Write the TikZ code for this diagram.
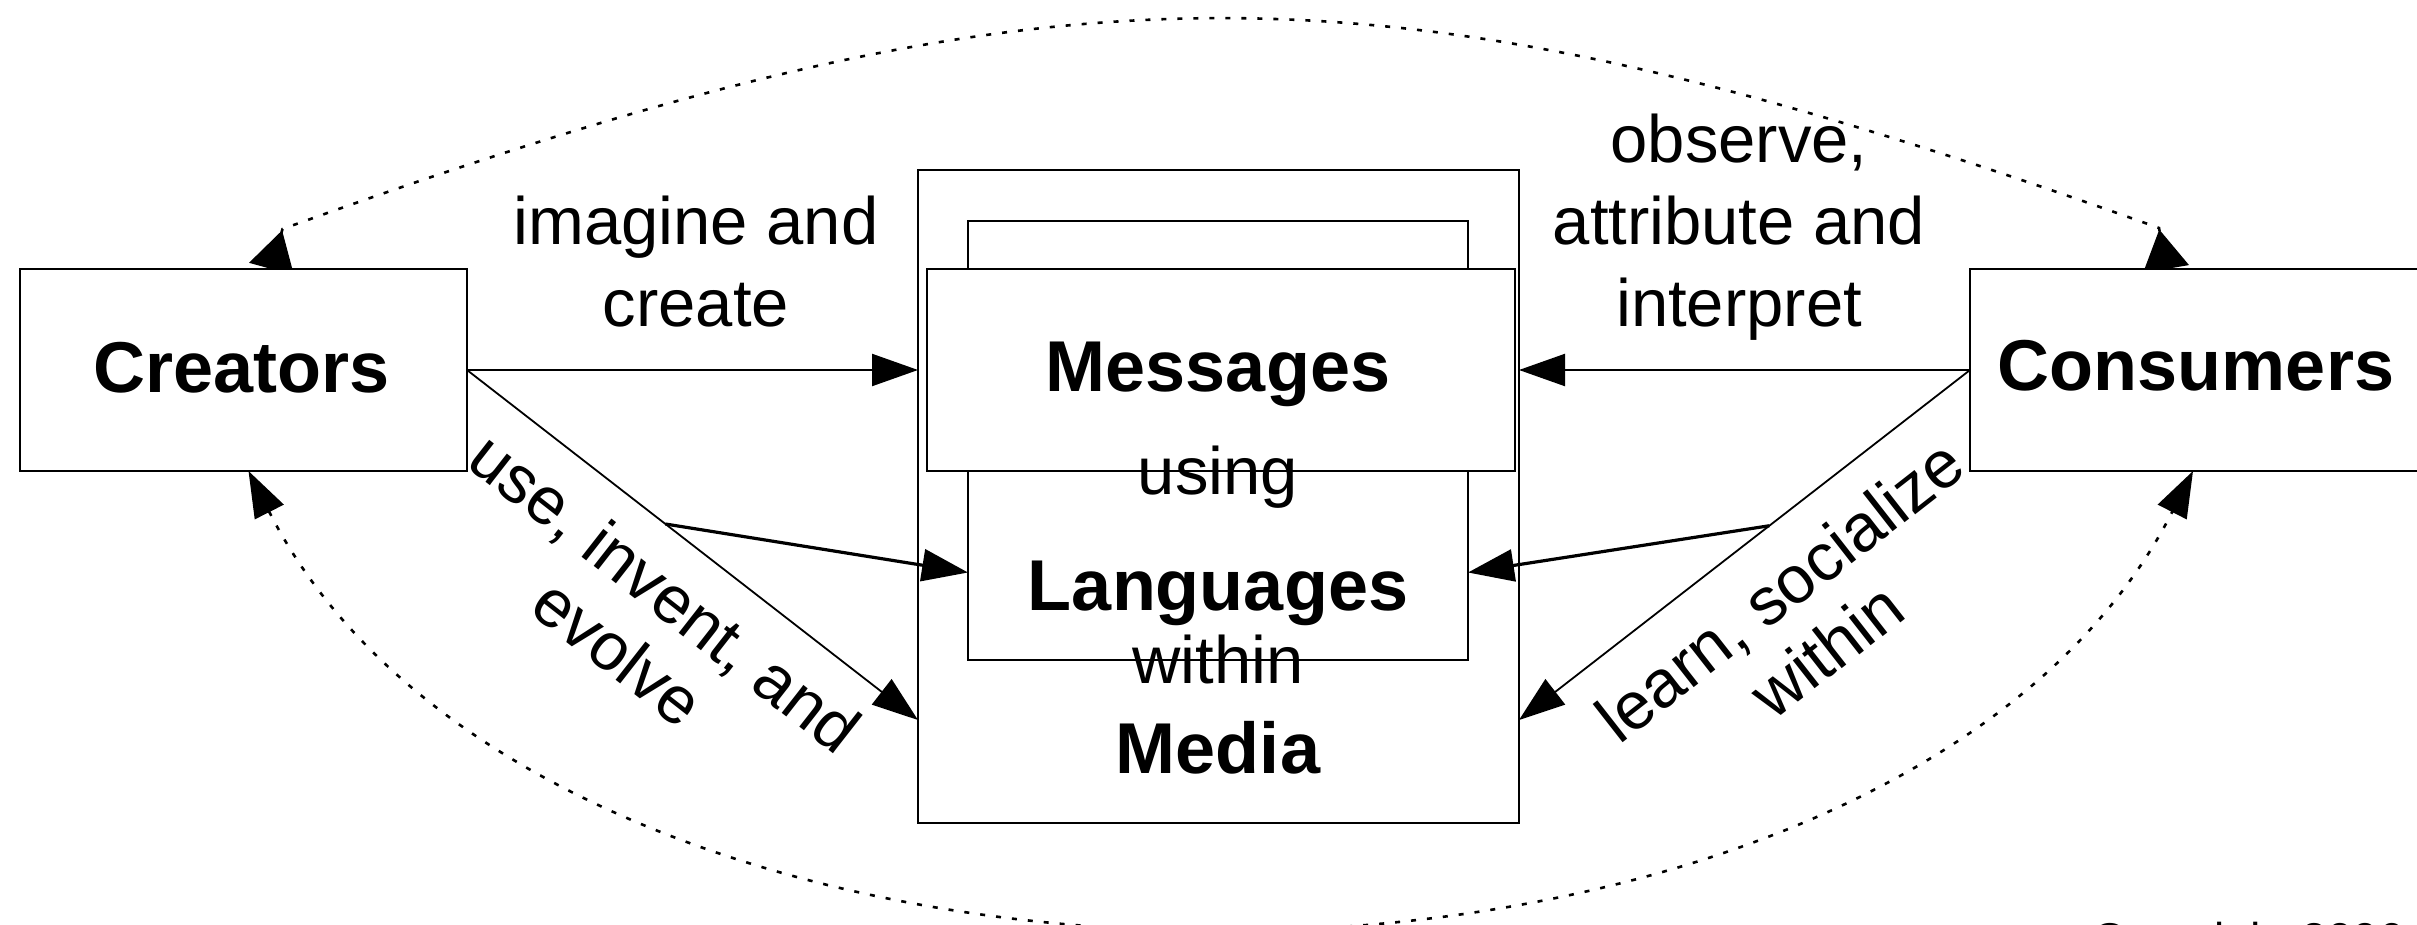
\documentclass[tikz,border=0pt]{standalone}
\usepackage{fontspec}
\setmainfont{Liberation Sans}
\usetikzlibrary{arrows.meta,calc}
\pgfdeclarelayer{background}
\pgfsetlayers{background,main}

\begin{document}
\begin{tikzpicture}[x=1pt,y=-1pt,
  box/.style={draw=black, line width=2.8pt, fill=white, inner sep=0pt, outer sep=0pt},
  big/.style={font=\fontsize{72}{86}\selectfont\bfseries, inner sep=0pt},
  lbl/.style={font=\fontsize{67}{82}\selectfont, inner sep=0pt, align=center},
  rlbl/.style={font=\fontsize{67}{76}\selectfont, inner sep=0pt, align=center},
  conn/.style={line width=2.2pt, -{Triangle[length=46pt,width=32pt]}},
  dotline/.style={line width=2.6pt, dash pattern=on 5pt off 11pt}]
\useasboundingbox (0,0) rectangle (2417,925);
\clip (0,0) rectangle (2417,925);

% boxes
\node[box, minimum width=447pt, minimum height=202pt] (cr) at (243.5,370) {};
\node[box, minimum width=601pt, minimum height=653pt] (media) at (1218.5,496.5) {};
\node[box, minimum width=500pt, minimum height=439pt] (lang) at (1218,440.5) {};
\node[box, minimum width=588pt, minimum height=202pt] (msg) at (1221,370) {};
\node[box, minimum width=450pt, minimum height=202pt] (cs) at (2195,370) {};

% box texts
\node[big, anchor=base] (crT) at (242,392) {Creators};
\node[big, anchor=base] (msgT) at (1218,391) {Messages};
\node[big, anchor=base] (langT) at (1218,610) {Languages};
\node[big, anchor=base] (mediaT) at (1218,773) {Media};
\node[big, anchor=base] (csT) at (2196,390) {Consumers};
\node[lbl, anchor=base] (usingT) at (1218,494) {using};
\node[lbl, anchor=base] (withinT) at (1218,683) {within};

% edge labels
\node[lbl] (createT) at (696,262) {imagine and\\create};
\node[lbl] (observeT) at (1739,227) {observe,\\attribute and\\interpret};
\node[rlbl, rotate=-38] (useT) at (642,622) {use, invent, and\\evolve};
\node[rlbl, rotate=38] (learnT) at (1803,620) {learn, socialize\\within};

% straight connectors
\draw[conn] (cr.east) -- (cr.east -| media.west);
\draw[conn] (cs.west) -- (cs.west -| media.east);

\coordinate (mL) at ([yshift=103pt]media.south west);
\coordinate (mR) at ([yshift=103pt]media.south east);
\draw[conn, line width=1.8pt] (cr.east) -- (mL);
\draw[conn, line width=1.8pt] (cs.west) -- (mR);

\coordinate (bL) at ($(cr.east)!0.44!(mL)$);
\coordinate (bR) at ($(cs.west)!0.445!(mR)$);
\draw[conn, line width=3.2pt] (bL) -- ([yshift=-132pt]lang.west);
\draw[conn, line width=3.2pt] (bR) -- ([yshift=-132pt]lang.east);

% dotted feedback arcs, behind the boxes
\begin{pgfonlayer}{background}
\draw[dotline, {Triangle[reversed,length=40pt,width=46pt]}-{Triangle[reversed,length=40pt,width=46pt]}]
  ([xshift=28pt]cr.north) -- ++(11,-40)
  .. controls (1063,-52) and (1379,-52) .. (2159,228)
  -- ([xshift=-29pt]cs.north);
\draw[dotline, {Triangle[length=46pt,width=32pt]}-{Triangle[length=46pt,width=32pt]}]
  ([xshift=5pt]cr.south) .. controls (553,1071) and (1888,1071) .. ([xshift=-2pt]cs.south);
\end{pgfonlayer}

% footer
\node[font=\fontsize{46}{50}\selectfont, anchor=base west, inner sep=0pt] (copyT) at (2092,955) {Copyright 2006};
\end{tikzpicture}
\end{document}
